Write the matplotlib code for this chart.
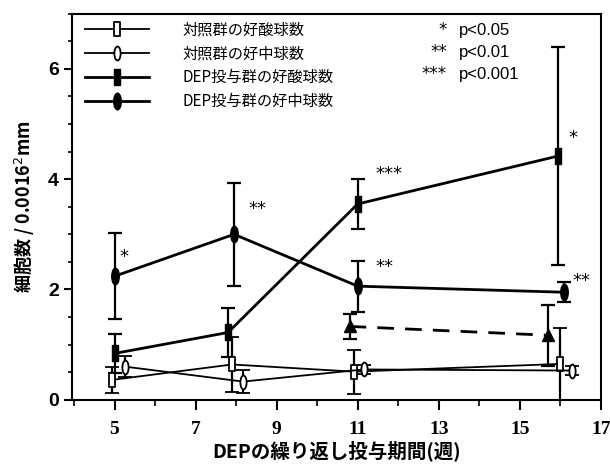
import numpy as np
from matplotlib import pyplot as plt
from matplotlib.lines import Line2D
from matplotlib.path import Path
from matplotlib.transforms import Affine2D

plt.rcParams['font.family'] = ['Noto Sans CJK JP', 'DejaVu Sans']

# control eosinophils (open rectangle)
ctl_eos_x = [4.93, 7.9, 10.9, 16.0]
ctl_eos_y = [0.36, 0.64, 0.51, 0.65]
ctl_eos_err = [0.24, 0.49, 0.40, 0.65]

# control neutrophils (open oval)
ctl_neu_x = [5.27, 8.17, 11.15, 16.3]
ctl_neu_y = [0.60, 0.33, 0.55, 0.53]
ctl_neu_err = [0.19, 0.21, 0.08, 0.08]

# DEP eosinophils (filled rectangle)
dep_eos_x = [5.0, 7.8, 11.0, 15.95]
dep_eos_y = [0.84, 1.22, 3.55, 4.42]
dep_eos_err = [0.35, 0.45, 0.45, 1.98]

# DEP neutrophils (filled oval)
dep_neu_x = [5.0, 7.95, 11.0, 16.08]
dep_neu_y = [2.24, 3.00, 2.06, 1.95]
dep_neu_err = [0.78, 0.93, 0.46, 0.18]

# unlabeled dashed series (triangle)
tri_x = [10.8, 15.7]
tri_y = [1.33, 1.17]
tri_err = [0.22, 0.55]

labels = ['対照群の好酸球数', '対照群の好中球数', 'DEP投与群の好酸球数', 'DEP投与群の好中球数']
sig_text = ['*', '**', '***', '**', '*', '**']
sig_x = [5.12, 8.3, 11.45, 11.45, 16.2, 16.3]
sig_y = [2.58, 3.45, 4.1, 2.4, 4.75, 2.15]
p_stars = ['*', '**', '***']
p_vals = ['p<0.05', 'p<0.01', 'p<0.001']

rect = Path([(-0.4, -1), (0.4, -1), (0.4, 1), (-0.4, 1), (-0.4, -1)],
            [Path.MOVETO, Path.LINETO, Path.LINETO, Path.LINETO, Path.CLOSEPOLY])
oval = Affine2D().scale(0.45, 1.0).transform_path(Path.unit_circle())

fig = plt.figure(figsize=(6.1, 4.72), dpi=100)
ax = fig.add_axes([0.118, 0.153, 0.867, 0.818])

kw = dict(color='black', ecolor='black', capsize=5, capthick=1.6, elinewidth=1.6)
styles = [
    dict(marker=rect, markersize=10, mfc='white', mec='black', mew=1.3, lw=1.3),
    dict(marker=oval, markersize=10, mfc='white', mec='black', mew=1.3, lw=1.3),
    dict(marker=rect, markersize=12, mfc='black', mec='black', lw=2),
    dict(marker=oval, markersize=12, mfc='black', mec='black', lw=2),
]
series = [
    (ctl_eos_x, ctl_eos_y, ctl_eos_err),
    (ctl_neu_x, ctl_neu_y, ctl_neu_err),
    (dep_eos_x, dep_eos_y, dep_eos_err),
    (dep_neu_x, dep_neu_y, dep_neu_err),
]
handles = []
for (x, y, e), st in zip(series, styles):
    ax.errorbar(x, y, yerr=e, **st, **kw)
    handles.append(Line2D([], [], color='black', **st))

ax.errorbar(tri_x, tri_y, yerr=tri_err, marker='^', markersize=8,
            ls=(0, (6, 4)), lw=2, **kw)

for t, x, y in zip(sig_text, sig_x, sig_y):
    ax.text(x, y, t, fontsize=13, family='DejaVu Sans', ha='left', va='center')

for i in range(3):
    yy = 6.70 - 0.40 * i
    ax.text(13.2, yy, p_stars[i], fontsize=12, family='DejaVu Sans', ha='right', va='center')
    ax.text(13.5, yy, p_vals[i], fontsize=12, family='Liberation Sans', ha='left', va='center')

ax.legend(handles, labels, loc='upper left', frameon=False, fontsize=11,
          handlelength=4.2, handletextpad=2.2, labelspacing=0.45, borderaxespad=0.1,
          bbox_to_anchor=(0.01, 1.0))

ax.set_xlim(3.95, 17)
ax.set_ylim(0, 7.0)
ax.set_xticks([5, 7, 9, 11, 13, 15, 17])
ax.set_xticks(np.arange(4, 17, 1), minor=True)
ax.set_yticks([0, 2, 4, 6])
ax.set_yticks(np.arange(0, 7.01, 0.5), minor=True)
ax.tick_params(axis='x', which='major', direction='out', length=7, width=1.5, labelsize=14, pad=8)
ax.tick_params(axis='x', which='minor', direction='out', length=4, width=1.2)
ax.tick_params(axis='y', which='major', direction='out', length=6, width=1.5, labelsize=14)
ax.tick_params(axis='y', which='minor', direction='out', length=3, width=1.2)
for lab in ax.get_xticklabels():
    lab.set_family('Liberation Serif')
    lab.set_fontweight('bold')
for lab in ax.get_yticklabels():
    lab.set_family('Liberation Sans')
    lab.set_fontweight('bold')
for s in ax.spines.values():
    s.set_linewidth(1.5)

ax.set_xlabel('DEPの繰り返し投与期間(週)', fontsize=14, fontweight='bold', labelpad=2)
ax.set_ylabel('細胞数 / 0.0016$^2$mm', fontsize=13, fontweight='bold', labelpad=8)

fig.savefig('out.png', dpi=100)
